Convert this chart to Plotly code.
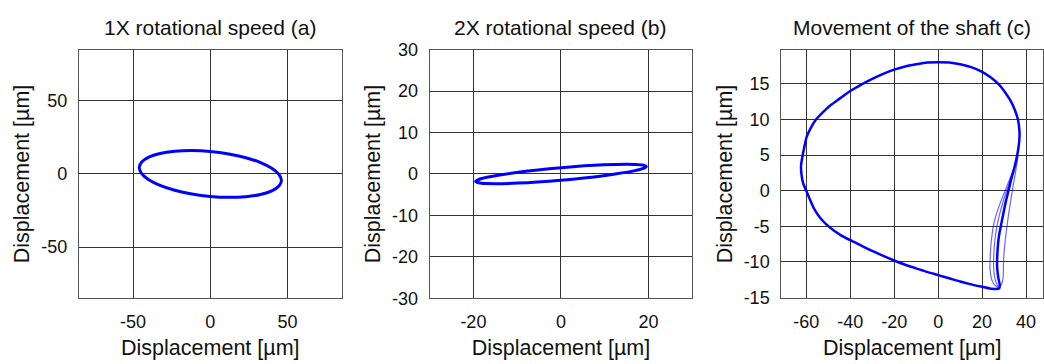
import plotly.graph_objects as go

W, H = 1044, 364

# ---- Panel (a): 1X rotational speed orbit ----
a_x = [46.0, 44.4, 39.8, 32.5, 23.0, 11.9, 0.0, -11.9, -23.0, -32.5, -39.8, -44.4,
       -46.0, -44.4, -39.8, -32.5, -23.0, -11.9, 0.0, 11.9, 23.0, 32.5, 39.8, 44.4, 46.0]
a_y = [-4.4, -8.2, -11.5, -14.0, -15.5, -16.0, -15.4, -13.7, -11.1, -7.8, -3.9, 0.3,
       4.4, 8.2, 11.5, 14.0, 15.5, 16.0, 15.4, 13.7, 11.1, 7.8, 3.9, -0.3, -4.4]

# ---- Panel (b): 2X rotational speed orbit ----
b_x = [19.5, 18.8, 16.9, 9.75, 0.0, -9.75, -16.9, -18.8, -19.5, -18.8, -16.9, -9.75,
       0.0, 9.75, 16.9, 18.8, 19.5]
b_y = [1.80, 1.35, 0.80, -0.41, -1.51, -2.21, -2.31, -2.13, -1.80, -1.35, -0.80, 0.41,
       1.51, 2.21, 2.31, 2.13, 1.80]

# ---- Panel (c): movement of the shaft (main orbit) ----
c_x = [0.5, -5.0, -10.0, -15.0, -20.0, -25.0, -30.0, -35.0, -40.0, -44.5, -49.0, -52.5,
       -55.6, -58.0, -59.8, -61.0, -61.9, -62.4, -62.2, -61.4, -60.0, -58.4, -56.5, -54.0,
       -51.0, -47.5, -44.0, -40.0, -35.0, -30.0, -25.0, -20.0, -15.0, -10.0, -5.0, 0.0, 5.0,
       10.0, 15.0, 20.0, 24.0, 27.7, 28.0, 27.4, 26.9, 26.8, 27.0, 27.6, 28.5, 29.6,
       30.8, 32.0, 33.4, 35.0, 36.2, 36.9, 37.0, 36.3, 34.8, 33.0, 30.5, 27.7, 24.0,
       20.0, 15.0, 10.0, 5.0, 0.5]
c_y = [18.05, 18.0, 17.75, 17.45, 17.0, 16.4, 15.7, 14.9, 14.0, 13.0, 12.0, 11.0,
       10.0, 8.8, 7.6, 6.0, 4.6, 3.5, 2.3, 1.0, 0.0, -1.2, -2.5, -3.7,
       -4.7, -5.6, -6.3, -6.95, -7.7, -8.45, -9.15, -9.8, -10.4, -10.9, -11.4, -11.85, -12.3,
       -12.75, -13.15, -13.5, -13.75, -13.75, -13.2, -12.3, -11.0, -10.0, -8.5, -6.5, -5.0, -3.3,
       -1.5, 0.0, 1.8, 3.6, 5.4, 7.0, 8.3, 10.0, 11.4, 12.6, 13.8, 14.9, 15.9,
       16.7, 17.35, 17.75, 18.0, 18.05]
# thin lines forming the fanned band on the right-hand branch
c_band1_x = [27.7, 25.5, 24.2, 23.6, 23.6, 23.9, 24.6, 25.4, 26.8, 28.5, 30.5, 32.5, 34.5, 35.8]
c_band1_y = [-13.7, -13.2, -12.3, -11.0, -10.0, -8.0, -6.0, -4.5, -3.0, -1.5, 0.0, 1.6, 3.2, 5.0]
c_band2_x = [27.7, 26.5, 25.6, 25.2, 25.3, 25.8, 26.6, 27.8, 29.3, 31.2, 33.0, 34.7, 36.0]
c_band2_y = [-13.7, -13.0, -12.0, -10.5, -9.0, -7.0, -5.2, -3.5, -1.8, 0.0, 1.7, 3.4, 5.2]
c_band3_x = [27.7, 29.0, 29.6, 29.7, 29.9, 30.5, 31.3, 32.2, 33.2, 34.3, 35.4, 36.4]
c_band3_y = [-13.7, -13.0, -12.0, -10.5, -9.0, -7.0, -5.0, -3.0, -1.0, 1.0, 3.0, 5.0]

x_ticks_a = [-50, 0, 50]
y_ticks_a = [-50, 0, 50]
x_ticks_b = [-20, 0, 20]
y_ticks_b = [-30, -20, -10, 0, 10, 20, 30]
x_ticks_c = [-60, -40, -20, 0, 20, 40]
y_ticks_c = [-15, -10, -5, 0, 5, 10, 15]

titles = ["1X rotational speed (a)", "2X rotational speed (b)", "Movement of the shaft (c)"]
axis_label = "Displacement [µm]"

BLUE = "#0000FF"
BAND = "rgba(0,0,255,0.6)"
FONT = "Liberation Sans, Arial, sans-serif"

fig = go.Figure()
fig.add_trace(go.Scatter(x=a_x, y=a_y, mode="lines", line=dict(color=BLUE, width=3, shape="spline"),
                         xaxis="x", yaxis="y", showlegend=False))
fig.add_trace(go.Scatter(x=b_x, y=b_y, mode="lines", line=dict(color=BLUE, width=3, shape="spline"),
                         xaxis="x2", yaxis="y2", showlegend=False))
for bx, by in [(c_band1_x, c_band1_y), (c_band2_x, c_band2_y), (c_band3_x, c_band3_y)]:
    fig.add_trace(go.Scatter(x=bx, y=by, mode="lines",
                             line=dict(color=BAND, width=1.2, shape="spline"),
                             xaxis="x3", yaxis="y3", showlegend=False))
fig.add_trace(go.Scatter(x=c_x, y=c_y, mode="lines",
                         line=dict(color=BLUE, width=2.5, shape="spline", smoothing=0.8),
                         xaxis="x3", yaxis="y3", showlegend=False))

def px_dom(a, b, total):
    return [a / total, b / total]

def labels(vals):
    return [str(v) for v in vals]

ydom = [1 - 305 / H, 1 - 42 / H]
common = dict(showgrid=True, gridcolor="#333333", gridwidth=1, zeroline=False,
              showline=True, linecolor="#555555", linewidth=1, mirror=True,
              ticks="", ticklabelstandoff=7,
              tickfont=dict(family=FONT, size=18, color="#111111"),
              title=dict(text=axis_label, font=dict(family=FONT, size=21.5, color="#111111")))

layout = dict(
    width=W, height=H, margin=dict(l=0, r=0, t=0, b=0),
    paper_bgcolor="white", plot_bgcolor="white",
    font=dict(family=FONT, color="#111111"),
    xaxis=dict(domain=px_dom(79, 342, W), range=[-85, 85], tickvals=x_ticks_a,
               ticktext=labels(x_ticks_a), anchor="y", **common),
    yaxis=dict(domain=ydom, range=[-85, 85], tickvals=y_ticks_a,
               ticktext=labels(y_ticks_a), anchor="x", **common),
    xaxis2=dict(domain=px_dom(430, 693, W), range=[-30, 30], tickvals=x_ticks_b,
                ticktext=labels(x_ticks_b), anchor="y2", **common),
    yaxis2=dict(domain=ydom, range=[-30, 30], tickvals=y_ticks_b,
                ticktext=labels(y_ticks_b), anchor="x2", **common),
    xaxis3=dict(domain=px_dom(782, 1044, W), range=[-71.4, 47.7], tickvals=x_ticks_c,
                ticktext=labels(x_ticks_c), anchor="y3", **common),
    yaxis3=dict(domain=ydom, range=[-15.1, 19.8], tickvals=y_ticks_c,
                ticktext=labels(y_ticks_c), anchor="x3", **common),
)
fig.update_layout(**layout)
for ax in ["xaxis", "xaxis2", "xaxis3"]:
    fig.layout[ax].title.standoff = 9
for ax in ["yaxis", "yaxis2", "yaxis3"]:
    fig.layout[ax].title.standoff = 5

centers = [210, 561, 913]
for t, cx in zip(titles, centers):
    fig.add_annotation(text=t, x=cx / W, y=1 - 18 / H, xref="paper", yref="paper",
                       xanchor="center", yanchor="middle", showarrow=False,
                       font=dict(family=FONT, size=21, color="#111111"))

fig.write_html("out.html")
